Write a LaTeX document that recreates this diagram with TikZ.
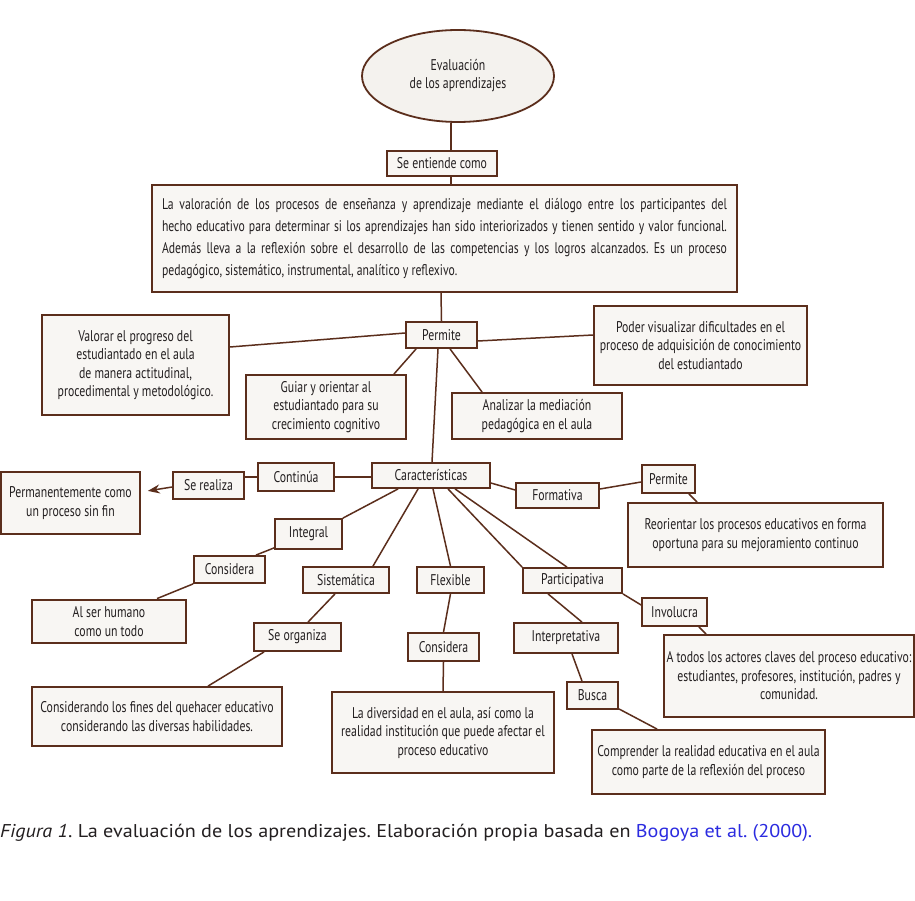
\documentclass[tikz,border=0pt]{standalone}
\usepackage{fontspec}
\setmainfont{PT Sans}[FakeStretch=0.76]
\newfontfamily\capfont{PT Sans}[FakeStretch=1.09]
\usetikzlibrary{shapes.geometric,arrows.meta,calc}
\definecolor{brd}{HTML}{5B2E1C}
\definecolor{fil}{HTML}{F8F6F3}
\definecolor{ellfil}{HTML}{F4F2EE}
\definecolor{txt}{HTML}{231F20}
\definecolor{capblue}{HTML}{2B2BE0}
\tikzset{
  box/.style={draw=brd, fill=fil, line width=1.8pt, inner sep=0pt, align=center, text=txt,
    font=\fontsize{15.5}{18.5}\selectfont},
  conn/.style={draw=brd, line width=1.5pt},
}
\newcommand{\bx}[5]{\node[box, minimum width=#3, minimum height=#4] (#1) at (#2) {#5};}
\begin{document}
\frenchspacing
\begin{tikzpicture}[x=1pt,y=-1pt]
\useasboundingbox[fill=white] (0,0) rectangle (915,901);
% top
\node[ellipse, draw=brd, fill=ellfil, line width=1.8pt, minimum width=192, minimum height=92, inner sep=0pt,
  align=center, text=txt, font=\fontsize{15.5}{18}\selectfont] (ell) at (458,76) {Evaluación\\de los aprendizajes};
\bx{seent}{442,163.5}{110}{25}{Se entiende como}
\node[box, minimum width=585, minimum height=107, text width=565, align=justify,
  font=\fontsize{15.4}{22}\selectfont] (big) at (444.5,238.5)
  {La valoración de los procesos de enseñanza y aprendizaje mediante el diálogo entre los participantes del\linebreak
   hecho educativo para determinar si los aprendizajes han sido interiorizados y tienen sentido y valor funcional.\linebreak
   Además lleva a la reflexión sobre el desarrollo de las competencias y los logros alcanzados. Es un proceso\linebreak
   pedagógico, sistemático, instrumental, analítico y reflexivo.};
\bx{perm1}{441.5,335}{71}{26}{Permite}
\bx{valorar}{135.5,365}{187}{100}{Valorar el progreso del\\estudiantado en el aula\\de manera actitudinal,\\procedimental y metodológico.}
\bx{poder}{700.5,345.5}{213}{79}{Poder visualizar dificultades en el\\proceso de adquisición de conocimiento\\del estudiantado}
\bx{guiar}{326,407}{160}{64}{Guiar y orientar al\\estudiantado para su\\crecimiento cognitivo}
\bx{analizar}{537,416}{170}{46}{Analizar la mediación\\pedagógica en el aula}
% caracteristicas
\bx{car}{431,475.5}{118}{25}{Características}
\bx{continua}{296,477}{76}{28}{Continúa}
\bx{serealiza}{208.5,485.5}{71}{27}{Se realiza}
\bx{perman}{70.5,503}{139}{62}{Permanentemente como\\un proceso sin fin}
\bx{integral}{308.5,534}{67}{30}{Integral}
\bx{consid1}{229.5,569.5}{71}{27}{Considera}
\node[box, line width=2.8pt, minimum width=154, minimum height=43] (alser) at (109,621.5) {Al ser humano\\como un todo};
\bx{sistem}{346,580}{86}{26}{Sistemática}
\bx{seorg}{297.5,637}{87}{28}{Se organiza}
\bx{consid}{157,716.5}{250}{59}{Considerando los fines del quehacer educativo\\considerando las diversas habilidades.}
\bx{flex}{450.5,580}{67}{26}{Flexible}
\bx{consid2}{443.5,647}{71}{28}{Considera}
\bx{divers}{443,732.5}{222}{81}{La diversidad en el aula, así como la\\realidad institución que puede afectar el\\proceso educativo}
\bx{format}{557.5,495.5}{83}{25}{Formativa}
\bx{perm2}{668.5,479}{53}{28}{Permite}
\bx{reor}{755.5,535}{255}{64}{Reorientar los procesos educativos en forma\\oportuna para su mejoramiento continuo}
\bx{partic}{572.5,580.5}{99}{25}{Participativa}
\bx{involucra}{674.5,612}{65}{28}{Involucra}
\bx{atodos}{789,676}{250}{82}{A todos los actores claves del proceso educativo:\\estudiantes, profesores, institución, padres y\\comunidad.}
\bx{interp}{566,638}{104}{30}{Interpretativa}
\bx{busca}{592.5,695.5}{51}{27}{Busca}
\bx{compr}{708.5,762}{233}{64}{Comprender la realidad educativa en el aula\\como parte de la reflexión del proceso}
% connectors
\draw[conn] ([xshift=-7pt]ell.south) -- ([xshift=9pt]seent.north);
\draw[conn] ([xshift=9pt]seent.south) -- ([xshift=6.5pt]big.north);
\draw[conn] ([xshift=-3.5pt]big.south) -- (perm1.north);
\draw[conn] ([yshift=2pt]perm1.west) -- ([yshift=18pt]valorar.east);
\draw[conn] ([yshift=-6pt]perm1.east) -- ([yshift=10.5pt]poder.west);
\draw[conn] ([xshift=11pt]perm1.south west) -- ([xshift=-13pt]guiar.north east);
\draw[conn] ([xshift=8.5pt]perm1.south) -- ([xshift=31pt]analizar.north west);
\draw[conn] ([xshift=-3.5pt]perm1.south) -- ([xshift=1pt]car.north);
\draw[conn] ([yshift=-1.5pt]car.west) -- (continua.east);
\draw[conn] (continua.west) -- ([yshift=8.5pt]serealiza.east);
\draw[conn, -{Stealth[length=12pt,width=9pt]}, shorten >=7pt] ([yshift=-1.5pt]serealiza.west) -- ([yshift=11pt]perman.east);
\draw[conn] ([xshift=27pt]car.south west) -- (integral.north east);
\draw[conn] ([yshift=2pt]integral.south west) -- ([xshift=-10pt]consid1.north east);
\draw[conn] (consid1.south west) -- ([xshift=48pt]alser.north);
\draw[conn] ([xshift=47pt]car.south west) -- ([xshift=27pt]sistem.north);
\draw[conn] ([xshift=-11pt]sistem.south) -- ([xshift=10.5pt]seorg.north);
\draw[conn] ([xshift=11pt]seorg.south west) -- ([xshift=51pt]consid.north);
\draw[conn] ([xshift=2pt]car.south) -- (flex.north);
\draw[conn] (flex.south) -- (consid2.north);
\draw[conn] (consid2.south) -- (divers.north);
\draw[conn] ([yshift=-7.5pt]car.east) -- ([yshift=5.5pt]format.west);
\draw[conn] ([yshift=6.5pt]format.east) -- ([yshift=-3pt]perm2.west);
\draw[conn] ([xshift=-7pt]perm2.south east) -- ([xshift=70pt]reor.north west);
\draw[conn] ([xshift=17pt]car.south) -- (partic.north west);
\draw[conn] ([xshift=24pt]car.south) -- ([xshift=-5.5pt]partic.north);
\draw[conn] (partic.south east) -- ([yshift=7pt]involucra.west);
\draw[conn] ([xshift=-9pt]involucra.south east) -- ([xshift=43pt]atodos.north west);
\draw[conn] ([xshift=-24.5pt]partic.south) -- ([xshift=16pt]interp.north);
\draw[conn] ([xshift=6pt]interp.south) -- ([xshift=-10.5pt]busca.north);
\draw[conn] ([yshift=1pt]busca.south east) -- ([xshift=66pt]compr.north west);
% caption
\node[anchor=west, inner sep=0pt, text=txt, font=\capfont\fontsize{18.5}{21}\selectfont] (cap) at (0,833)
  {\textit{Figura 1}. La evaluación de los aprendizajes. Elaboración propia basada en \textcolor{capblue}{Bogoya et al. (2000).}};
\end{tikzpicture}
\end{document}
